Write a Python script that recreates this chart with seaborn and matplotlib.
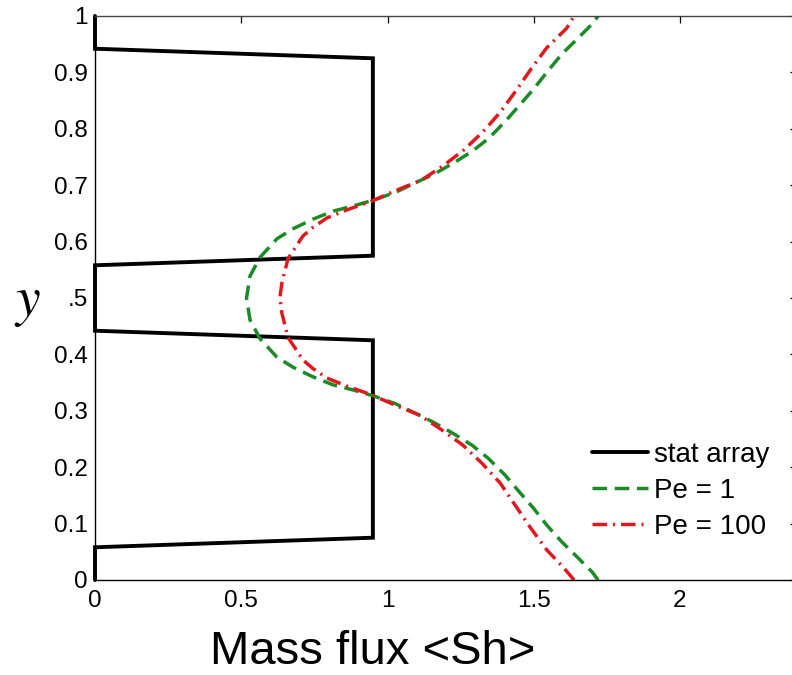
import numpy as np
import pandas as pd
import matplotlib
matplotlib.use("Agg")
import matplotlib.pyplot as plt
import seaborn as sns

# ---------------- data ----------------
stat_x = [0.0, 0.0, 0.95, 0.95, 0.0, 0.0, 0.95, 0.95, 0.0, 0.0]
stat_y = [1.0, 0.942, 0.925, 0.575, 0.558, 0.442, 0.425, 0.075, 0.058, 0.0]

pe1_y = [0.0, 0.014, 0.041, 0.067, 0.097, 0.128, 0.159, 0.186, 0.216, 0.239,
         0.260, 0.280, 0.296, 0.312, 0.326, 0.337, 0.346, 0.360, 0.377, 0.395,
         0.428, 0.461, 0.500, 0.539, 0.572, 0.605, 0.623, 0.640, 0.654, 0.663,
         0.674, 0.688, 0.704, 0.720, 0.740, 0.761, 0.784, 0.814, 0.841, 0.872,
         0.903, 0.933, 0.959, 0.986, 1.0]
pe1_x = [1.720, 1.700, 1.648, 1.597, 1.545, 1.498, 1.446, 1.402, 1.344, 1.289,
         1.224, 1.156, 1.094, 1.030, 0.955, 0.882, 0.814, 0.746, 0.678, 0.622,
         0.564, 0.530, 0.518, 0.530, 0.564, 0.622, 0.678, 0.746, 0.814, 0.882,
         0.955, 1.030, 1.094, 1.160, 1.228, 1.292, 1.348, 1.404, 1.450, 1.502,
         1.549, 1.597, 1.648, 1.700, 1.720]

pe100_y = [0.0, 0.023, 0.053, 0.094, 0.133, 0.172, 0.207, 0.239, 0.266, 0.292,
           0.310, 0.328, 0.344, 0.358, 0.375, 0.390, 0.430, 0.473, 0.500, 0.527,
           0.570, 0.610, 0.625, 0.642, 0.656, 0.672, 0.690, 0.709, 0.735, 0.763,
           0.794, 0.829, 0.868, 0.907, 0.944, 0.978, 1.0]
pe100_x = [1.638, 1.600, 1.545, 1.487, 1.436, 1.385, 1.323, 1.258, 1.186, 1.111,
           1.026, 0.947, 0.860, 0.793, 0.745, 0.711, 0.660, 0.639, 0.632, 0.639,
           0.660, 0.711, 0.745, 0.793, 0.860, 0.947, 1.026, 1.116, 1.192, 1.262,
           1.325, 1.385, 1.440, 1.492, 1.545, 1.612, 1.638]

series_names = ["stat array", "Pe = 1", "Pe = 100"]
x_ticks = [0, 0.5, 1, 1.5, 2]
x_tick_labels = ["0", "0.5", "1", "1.5", "2"]
y_ticks = [0, 0.1, 0.2, 0.3, 0.4, 0.5, 0.6, 0.7, 0.8, 0.9, 1.0]
y_tick_labels = ["0", "0.1", "0.2", "0.3", "0.4", ".5", "0.6", "0.7", "0.8", "0.9", "1"]
x_label = "Mass flux <Sh>"
y_label = "$y$"

# ---------------- figure ----------------
sns.set_style("white")
plt.rcParams["font.family"] = ["Liberation Sans", "DejaVu Sans"]
plt.rcParams["mathtext.fontset"] = "stix"
plt.rcParams["text.color"] = "black"
plt.rcParams["xtick.color"] = "black"
plt.rcParams["ytick.color"] = "black"

W, H, DPI = 792, 675, 100
fig = plt.figure(figsize=(W / DPI, H / DPI), dpi=DPI)
fig.patch.set_facecolor("white")

left_px, right_px, top_px, bottom_px = 95, 797, 16, 580
ax = fig.add_axes([left_px / W, 1 - bottom_px / H,
                   (right_px - left_px) / W, (bottom_px - top_px) / H])

df_stat = pd.DataFrame({"x": stat_x, "y": stat_y})
df_p1 = pd.DataFrame({"x": pe1_x, "y": pe1_y})
df_p100 = pd.DataFrame({"x": pe100_x, "y": pe100_y})

sns.lineplot(data=df_stat, x="x", y="y", sort=False, estimator=None, ax=ax,
             color="black", linewidth=2.8, label=series_names[0], clip_on=False,
             solid_joinstyle="miter")
sns.lineplot(data=df_p1, x="x", y="y", sort=False, estimator=None, ax=ax,
             color="#1c8a26", linewidth=2.5, linestyle=(0, (4.2, 2.2)),
             label=series_names[1])
sns.lineplot(data=df_p100, x="x", y="y", sort=False, estimator=None, ax=ax,
             color="#e0191e", linewidth=2.5, linestyle=(0, (4.2, 1.7, 0.6, 1.7)),
             label=series_names[2])

ax.set_xlim(0, 2.4)
ax.set_ylim(0, 1)
ax.set_xticks(x_ticks)
ax.set_xticklabels(x_tick_labels)
ax.set_yticks(y_ticks)
ax.set_yticklabels(y_tick_labels)
ax.set_xlabel("")
ax.set_ylabel("")

ax.tick_params(axis="both", which="both", direction="in", length=5, width=0.9,
               top=True, right=True, labelsize=17.5, colors="black",
               labelcolor="black", pad=5)
ax.tick_params(axis="x", pad=7)
for side, sp in ax.spines.items():
    sp.set_visible(True)
    sp.set_linewidth(1.0)
    sp.set_color("black")
ax.spines["top"].set_color("#444444")

leg = ax.legend(loc="upper left",
                bbox_to_anchor=(592 / W, 1 - 442 / H),
                bbox_transform=fig.transFigure,
                frameon=False, fontsize=20, handlelength=2.0,
                handletextpad=0.22, labelspacing=0.36, borderpad=0,
                borderaxespad=0)
for t in leg.get_texts():
    t.set_color("black")

fig.text(373 / W, 1 - 664 / H, x_label, fontsize=34, ha="center",
         va="baseline", color="black")
fig.text(27 / W, 1 - 303 / H, y_label, fontsize=40, ha="center",
         va="center", color="black")

fig.savefig("out.png", dpi=DPI)
